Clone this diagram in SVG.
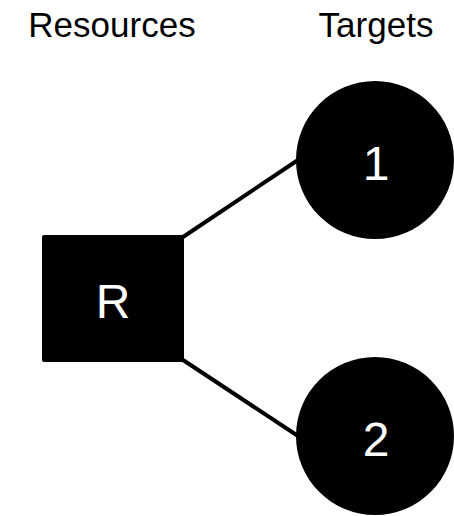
<svg xmlns="http://www.w3.org/2000/svg" width="454" height="516" viewBox="0 0 454 516">
<style>
.hdr{font-family:"Liberation Sans",Arial,sans-serif;font-size:35px;fill:#000;text-anchor:middle}
.lbl{font-family:"Liberation Sans",Arial,sans-serif;font-size:48px;fill:#fff;text-anchor:middle}
.edge{stroke:#000;stroke-width:4;fill:none}
</style>
<rect width="454" height="516" fill="#fff"/>
<text class="hdr" x="112" y="37">Resources</text>
<text class="hdr" x="376" y="37">Targets</text>
<g id="connectors">
<line class="edge" x1="183" y1="237" x2="298" y2="160"/>
<line class="edge" x1="183" y1="360" x2="298" y2="436"/>
</g>
<g id="node-R">
<rect x="42" y="235" width="142" height="127" rx="2" fill="#000"/>
<text class="lbl" x="113" y="318">R</text>
</g>
<g id="node-1">
<circle cx="375" cy="160" r="79" fill="#000"/>
<text class="lbl" x="376" y="180">1</text>
</g>
<g id="node-2">
<circle cx="375" cy="436" r="79" fill="#000"/>
<text class="lbl" x="376" y="456">2</text>
</g>
</svg>
